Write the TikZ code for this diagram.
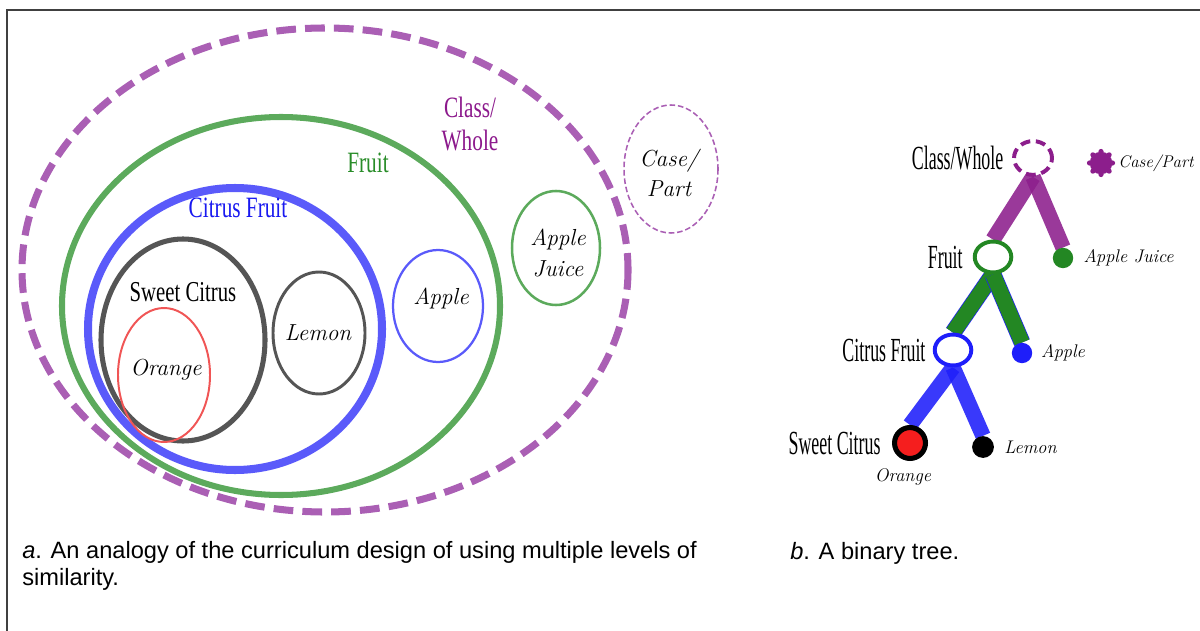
\documentclass[tikz,border=0pt]{standalone}
\usepackage{fontspec}
\usetikzlibrary{positioning,backgrounds,shapes.geometric}
\newfontfamily\capfont{Liberation Sans}
\newfontfamily\setfont[FakeStretch=0.72]{Liberation Serif}
\newfontfamily\treefont[FakeStretch=0.53]{Liberation Serif}
\definecolor{wholedash}{RGB}{170,95,180}
\definecolor{fruitgreen}{RGB}{92,170,92}
\definecolor{citrusblue}{RGB}{90,90,250}
\definecolor{sweetgray}{RGB}{85,85,85}
\definecolor{orangered}{RGB}{240,85,85}
\definecolor{wholetext}{RGB}{140,25,140}
\definecolor{fruittext}{RGB}{40,140,40}
\definecolor{citrustext}{RGB}{25,25,240}
\definecolor{treepurple}{RGB}{140,30,140}
\definecolor{treegreen}{RGB}{35,135,35}
\definecolor{treeblue}{RGB}{30,30,250}
\definecolor{treered}{RGB}{245,30,30}
\tikzset{
    setlabel/.style={inner sep=0pt, align=center, font={\setfont\fontsize{21pt}{23.5pt}\selectfont}},
    hand/.style={inner sep=0pt, align=center, font={\itshape\fontsize{16.5pt}{21.5pt}\selectfont}},
    treelabel/.style={inner sep=0pt, font={\treefont\fontsize{24pt}{26pt}\selectfont}},
    treehand/.style={inner sep=0pt, font={\itshape\fontsize{13pt}{15pt}\selectfont}},
    opennode/.style={ellipse, draw=#1, fill=white, line width=2.8pt,
        minimum width=26pt, minimum height=22pt, inner sep=0pt},
    leafnode/.style={circle, fill=#1, minimum size=14.5pt, inner sep=0pt},
    branch/.style={draw=#1, line width=11pt, draw opacity=0.88},
    caption/.style={inner sep=0pt, align=left, font={\capfont\fontsize{16.8pt}{18.5pt}\selectfont}},
}
\begin{document}
\begin{tikzpicture}[x=0.025cm,y=-0.025cm]
    \clip (0,0) rectangle (1200,630);
    \draw[black!75, line width=1pt] (7,10) rectangle (1230,660);
    %% nested sets
    \draw[wholedash, line width=5pt, dash pattern=on 14pt off 6.5pt]
        (325,270) ellipse [x radius=303, y radius=242];
    \draw[fruitgreen, line width=4.3pt] (281,306) ellipse [x radius=219, y radius=189];
    \draw[citrusblue, line width=5.7pt] (235,329) ellipse [x radius=147, y radius=141];
    \draw[sweetgray, line width=3.6pt] (183,340) ellipse [x radius=82, y radius=101];
    \draw[orangered, line width=1.4pt] (164,375) ellipse [x radius=46, y radius=67];
    \draw[sweetgray, line width=2.1pt] (319,333) ellipse [x radius=46, y radius=61];
    \draw[citrusblue, line width=1.6pt] (438,306) ellipse [x radius=45, y radius=56];
    \draw[fruitgreen, line width=1.8pt] (556,248) ellipse [x radius=44, y radius=57];
    \draw[wholedash, line width=1.1pt, dash pattern=on 4pt off 2pt]
        (671,169) ellipse [x radius=47, y radius=64];
    \node[setlabel, wholetext] (setwhole) at (470,124) {Class/\\Whole};
    \node[setlabel, fruittext] (setfruit) at (368,163) {Fruit};
    \node[setlabel, citrustext] (setcitrus) at (238,208) {Citrus Fruit};
    \node[setlabel, font={\setfont\fontsize{20.5pt}{22pt}\selectfont}] (setsweet) at (183,292) {Sweet Citrus};
    \node[hand] (setorange) at (166,370) {Orange};
    \node[hand] (setlemon) at (318,333) {Lemon};
    \node[hand] (setapple) at (441,298) {Apple};
    \node[hand] (setjuice) at (558,253) {Apple\\Juice};
    \node[hand] (setcase) at (669,173) {Case/\\Part};
    %% binary tree
    \node[opennode=treepurple, dash pattern=on 7pt off 4pt, minimum width=27pt, minimum height=24pt]
        (whole) at (1033,158) {};
    \node[circle, fill=treepurple, minimum size=16pt, inner sep=0pt] (case) at (1101,163) {};
    \foreach \a in {0,45,...,315}
        \fill[treepurple] (case.center) ++(\a:11.5) circle (2.6);
    \node[opennode=treegreen] (fruit) at (993,257) {};
    \node[leafnode=treegreen] (juice) at (1063,258) {};
    \node[opennode=treeblue] (citrus) at (953,350) {};
    \node[leafnode=treeblue] (apple) at (1022,353) {};
    \node[circle, draw=black, fill=treered, line width=3.6pt, minimum size=22pt, inner sep=0pt]
        (sweet) at (910,443) {};
    \node[leafnode=black, minimum size=15.5pt] (lemon) at (983,447) {};
    \begin{scope}[on background layer]
        \draw[branch=treepurple] (whole.south) -- (fruit.north);
        \draw[branch=treepurple] (whole.south) -- (juice.north);
        \foreach \t in {citrus,apple} {
            \draw[treeblue, line width=12pt] (fruit.south) -- (\t.north);
            \draw[branch=treegreen, draw opacity=1] (fruit.south) -- (\t.north);
        }
        \draw[branch=treeblue] (citrus.south) -- (sweet.north);
        \draw[branch=treeblue] (citrus.south) -- (lemon.north);
    \end{scope}
    \node[treelabel, left=6pt of whole] (wholelabel) {Class/Whole};
    \node[treehand, right=4pt of case, font={\itshape\fontsize{12pt}{14pt}\selectfont}] (caselabel) {Case/Part};
    \node[treelabel, left=7pt of fruit] (fruitlabel) {Fruit};
    \node[treehand, right=7pt of juice] (juicelabel) {Apple Juice};
    \node[treelabel, left=5pt of citrus] (citruslabel) {Citrus Fruit};
    \node[treehand, right=6pt of apple] (applelabel) {Apple};
    \node[treelabel, left=8pt of sweet] (sweetlabel) {Sweet Citrus};
    \node[treehand, below=5pt of sweet, xshift=-5pt] (orangelabel) {Orange};
    \node[treehand, right=7pt of lemon] (lemonlabel) {Lemon};
    %% captions
    \node[caption, anchor=base west] (capa) at (22,585)
        {\textit{a}. An analogy of the curriculum design of using multiple levels of\\similarity.};
    \node[caption, anchor=base west] (capb) at (790,559) {\textit{b}. A binary tree.};
\end{tikzpicture}
\end{document}
